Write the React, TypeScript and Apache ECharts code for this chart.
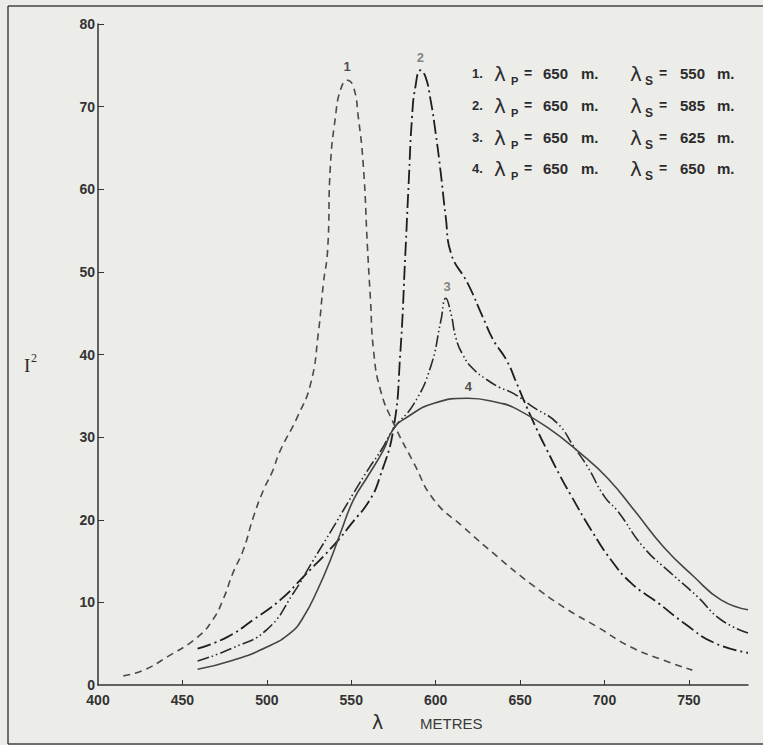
import React, { useEffect, useRef } from 'react';
import * as echarts from 'echarts';

// ---- data ----
const curve1X = [415, 427, 441, 459, 468, 474, 480, 486, 492, 498, 503, 508, 518, 526, 530.5, 533.5, 536, 537.6, 540.6, 543.6, 547.7, 551.3, 554.2, 557.2, 559.6, 561.4, 563.2, 567.3, 575, 587, 599, 616.5, 636.7, 656, 676, 696, 715.6, 735, 752];
const curve1Y = [1.1, 1.8, 3.4, 5.8, 7.9, 10.3, 13.6, 16.3, 20.3, 23.6, 25.7, 28.4, 32.4, 36.5, 42.6, 48.6, 52.6, 62.7, 68.7, 72, 73.2, 72.4, 68.7, 62.7, 53, 46.6, 40.5, 35.7, 31.7, 26.9, 22.4, 19.1, 15.5, 12.3, 9.4, 7.0, 4.6, 3.0, 1.8];

const curve2X = [459, 476.5, 492, 508, 521.6, 540, 550, 561, 567, 575, 579, 582, 584, 586, 588, 591, 594, 597, 600, 603, 606, 609, 619, 628, 634, 642, 648, 654, 660, 666, 674, 680, 692, 704, 716, 732, 747, 765, 785];
const curve2Y = [4.4, 5.8, 7.9, 10.3, 13.1, 17, 19.5, 22.4, 25.2, 31, 40, 52, 60.7, 68.7, 72.4, 74.4, 73.6, 70.8, 66.8, 62, 56.6, 52.3, 48.6, 44.5, 41.8, 39.3, 36.5, 33.6, 30.9, 28.4, 25.2, 23, 18.8, 15.1, 12.3, 9.9, 7.5, 5.1, 3.9];

const curve3X = [459, 480, 500, 515.7, 527.5, 539.4, 551.3, 561, 568, 575, 587, 597, 603, 606, 609, 612, 616, 622, 630, 638, 646, 658, 672, 682, 690, 700, 708, 723, 739, 755, 769, 785];
const curve3Y = [2.9, 4.5, 6.7, 11.1, 15.1, 19.1, 23.2, 26.4, 28.5, 31, 34, 38.5, 44, 46.8, 45, 42, 40, 38.3, 37, 36, 35.3, 33.6, 31.7, 28.8, 26.4, 22.8, 21, 16.7, 13.6, 10.7, 7.9, 6.3];

const curve4X = [459, 480, 500, 514, 521.6, 530, 537.6, 543.6, 551.3, 559.6, 569, 575, 583, 599, 619, 638.5, 646, 666, 686, 702, 717.4, 735, 753, 769, 785];
const curve4Y = [1.9, 3.0, 4.6, 6.3, 8.2, 11.5, 15.1, 18.4, 22.4, 25.2, 28.4, 31, 32.4, 34.1, 34.7, 34.1, 33.6, 31.2, 28, 25, 21.2, 16.7, 13.1, 10.3, 9.1];

const xLabelValues = [400, 450, 500, 550, 600, 650, 700, 750];
const xTickValues = [450, 500, 550, 600, 650, 700, 750];
const yLabelValues = [0, 10, 20, 30, 40, 50, 60, 70, 80];
const yTickValues = [10, 20, 30, 40, 50, 60, 70, 80];

const curveNames = ['1', '2', '3', '4'];
const curveLabelX = [547.5, 591, 606.8, 619.3];
const curveLabelY = [74.8, 75.9, 48.2, 36.1];
const curveLabelColors = ['#222', '#666', '#666', '#222'];

const legendNums = ['1.', '2.', '3.', '4.'];
const lambdaP = [650, 650, 650, 650];
const lambdaS = [550, 585, 625, 650];

const pairs = (xs: number[], ys: number[]) => xs.map((x, i) => [x, ys[i]]);

const BG = '#ecece9';
const INK = '#2b2b2b';
const SANS = 'Liberation Sans, Arial, sans-serif';

export default function App() {
  const ref = useRef<HTMLDivElement>(null);

  useEffect(() => {
    document.body.style.margin = '0';
    if (!ref.current) return;
    const chart = echarts.init(ref.current, null, { renderer: 'svg' });

    const rowY = [73, 105, 137, 168];
    const legendGraphics: any[] = [];
    legendNums.forEach((num, i) => {
      const y = rowY[i];
      legendGraphics.push(
        { type: 'text', x: 472, y, style: { text: num, font: `bold 13px ${SANS}`, fill: INK, verticalAlign: 'middle' } },
        { type: 'text', x: 494, y: y + 1, style: { text: 'λ', font: `20px DejaVu Sans, sans-serif`, fill: INK, verticalAlign: 'middle' } },
        { type: 'text', x: 511, y: y + 8, style: { text: 'P', font: `bold 11px ${SANS}`, fill: INK, verticalAlign: 'middle' } },
        { type: 'text', x: 524, y, style: { text: '=', font: `bold 14px ${SANS}`, fill: INK, verticalAlign: 'middle' } },
        { type: 'text', x: 543, y, style: { text: String(lambdaP[i]), font: `bold 15px ${SANS}`, fill: INK, verticalAlign: 'middle' } },
        { type: 'text', x: 581, y, style: { text: 'm.', font: `bold 15px ${SANS}`, fill: INK, verticalAlign: 'middle' } },
        { type: 'text', x: 630, y: y + 1, style: { text: 'λ', font: `20px DejaVu Sans, sans-serif`, fill: INK, verticalAlign: 'middle' } },
        { type: 'text', x: 645, y: y + 8, style: { text: 'S', font: `bold 12px ${SANS}`, fill: INK, verticalAlign: 'middle' } },
        { type: 'text', x: 659, y, style: { text: '=', font: `bold 14px ${SANS}`, fill: INK, verticalAlign: 'middle' } },
        { type: 'text', x: 680, y, style: { text: String(lambdaS[i]), font: `bold 15px ${SANS}`, fill: INK, verticalAlign: 'middle' } },
        { type: 'text', x: 717, y, style: { text: 'm.', font: `bold 15px ${SANS}`, fill: INK, verticalAlign: 'middle' } }
      );
    });

    const lineCommon = { showSymbol: false, smooth: 0.5 };

    const option: any = {
      animation: false,
      backgroundColor: BG,
      grid: { left: 98, right: 15, top: 24, bottom: 60, containLabel: false },
      xAxis: {
        type: 'value',
        min: 400,
        max: 785,
        interval: 50,
        axisLine: { show: true, lineStyle: { color: '#333', width: 1.5 } },
        axisTick: { show: true, inside: true, length: 5, customValues: xTickValues, lineStyle: { color: '#333', width: 1 } },
        axisLabel: { customValues: xLabelValues, margin: 8, lineHeight: 14, fontSize: 14, fontWeight: 'bold', color: '#333', fontFamily: SANS },
        splitLine: { show: false },
      },
      yAxis: {
        type: 'value',
        min: 0,
        max: 80,
        interval: 10,
        axisLine: { show: true, lineStyle: { color: '#333', width: 1.5 } },
        axisTick: { show: true, inside: true, length: 6, customValues: yTickValues, lineStyle: { color: '#333', width: 1 } },
        axisLabel: { customValues: yLabelValues, margin: 3, lineHeight: 12, fontSize: 14, fontWeight: 'bold', color: '#333', fontFamily: SANS },
        splitLine: { show: false },
      },
      series: [
        { type: 'line', data: pairs(curve1X, curve1Y), ...lineCommon, lineStyle: { color: '#4a4a4a', width: 1.6, type: [7, 5] } },
        { type: 'line', data: pairs(curve2X, curve2Y), ...lineCommon, lineStyle: { color: '#1e1e1e', width: 1.8, type: [14, 4, 2, 4] } },
        { type: 'line', data: pairs(curve3X, curve3Y), ...lineCommon, lineStyle: { color: '#2a2a2a', width: 1.6, type: [12, 3, 1.5, 3, 1.5, 3] } },
        { type: 'line', data: pairs(curve4X, curve4Y), ...lineCommon, lineStyle: { color: '#444', width: 1.6, type: 'solid' } },
        {
          type: 'scatter',
          data: curveNames.map((n, i) => ({
            value: [curveLabelX[i], curveLabelY[i]],
            name: n,
            label: { color: curveLabelColors[i] },
          })),
          symbolSize: 1,
          itemStyle: { color: 'rgba(0,0,0,0)' },
          label: {
            show: true, position: 'inside', formatter: (p: any) => p.name,
            fontFamily: SANS, fontSize: 13, fontWeight: 'bold',
          },
          silent: true,
        },
      ],
      graphic: [
        { type: 'line', shape: { x1: 8, y1: 6, x2: 8, y2: 744 }, style: { stroke: '#444', lineWidth: 1.5 } },
        { type: 'line', shape: { x1: 8, y1: 6, x2: 763, y2: 6 }, style: { stroke: '#444', lineWidth: 1.5 } },
        { type: 'line', shape: { x1: 8, y1: 744, x2: 763, y2: 744 }, style: { stroke: '#444', lineWidth: 1.5 } },
        { type: 'text', x: 372, y: 722, style: { text: 'λ', font: '19px DejaVu Sans, sans-serif', fill: INK, verticalAlign: 'middle' } },
        { type: 'text', x: 420, y: 723, style: { text: 'METRES', font: `15px ${SANS}`, fill: '#3a3a3a', verticalAlign: 'middle' } },
        { type: 'text', x: 24, y: 365, style: { text: 'I', font: '19px Liberation Serif, serif', fill: INK, verticalAlign: 'middle' } },
        { type: 'text', x: 31, y: 358, style: { text: '2', font: '12px Liberation Serif, serif', fill: INK, verticalAlign: 'middle' } },
        ...legendGraphics,
      ],
    };

    chart.setOption(option);
    return () => chart.dispose();
  }, []);

  return (
    <div
      ref={ref}
      style={{ position: 'fixed', left: 0, top: 0, width: 763, height: 745, background: BG }}
    />
  );
}
